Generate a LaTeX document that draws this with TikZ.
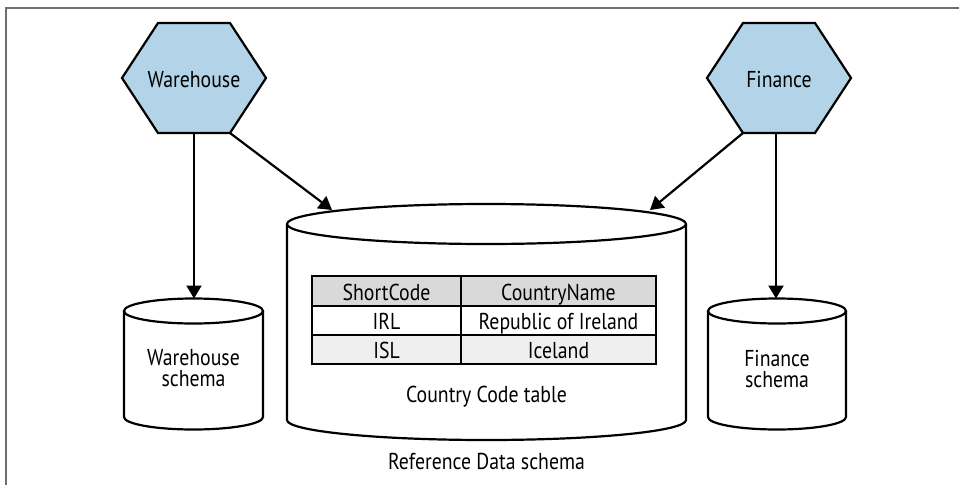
\documentclass[tikz,border=0pt]{standalone}
\usepackage{fontspec}
\setmainfont{PT Sans}[FakeStretch=0.86]
\usetikzlibrary{arrows.meta}
\definecolor{hexblue}{HTML}{B3D4E8}
\definecolor{hdrgray}{HTML}{D9D9D9}
\definecolor{rowgray}{HTML}{EFEFEF}
\definecolor{framegray}{HTML}{6E6E6E}
\begin{document}
\begin{tikzpicture}[x=1pt,y=-1pt,line width=2.2pt,
  txt/.style={font=\fontsize{23}{21}\selectfont, inner sep=0pt, align=center},
  arr/.style={-{Triangle[length=13pt,width=15pt]}},
  hexa/.style={draw=black, fill=hexblue, line width=2.2pt},
  cyl/.style={draw=black, fill=white, line width=2.2pt}]
\useasboundingbox (0,0) rectangle (959,485);
\fill[white] (0,0) rectangle (959,485);
\draw[framegray, line width=1.5pt] (6,485) -- (6,8) -- (959,8);

% hexagons
\draw[hexa] (122,78) -- (158,23) -- (230,23) -- (266,78) -- (230,133) -- (158,133) -- cycle;
\draw[hexa] (707,78) -- (743,23) -- (815,23) -- (851,78) -- (815,133) -- (743,133) -- cycle;
\node[txt, anchor=base] (wh) at (194,87) {Warehouse};
\node[txt, anchor=base] (fin) at (779,87) {Finance};
\coordinate (whB) at (194,133);
\coordinate (whBR) at (230,133);
\coordinate (finB) at (776,133);
\coordinate (finBL) at (743,133);

% big cylinder
\draw[cyl] (287,224) -- (287,420) arc[start angle=180, end angle=0, x radius=199.5, y radius=20] -- (686,224);
\draw[cyl] (486.5,224) ellipse [x radius=199.5, y radius=20];
\coordinate (bigL) at (332,210);
\coordinate (bigR) at (650,210);

% small cylinders
\draw[cyl] (124,311) -- (124,417) arc[start angle=180, end angle=0, x radius=69.5, y radius=12.5] -- (263,311);
\draw[cyl] (193.5,311) ellipse [x radius=69.5, y radius=12.5];
\draw[cyl] (708,311) -- (708,417) arc[start angle=180, end angle=0, x radius=69, y radius=12.5] -- (846,311);
\draw[cyl] (777,311) ellipse [x radius=69, y radius=12.5];
\coordinate (whTop) at (194,298.5);
\coordinate (finTop) at (776,298.5);
\node[txt] (whs) at (193.5,368.5) {Warehouse\\schema};
\node[txt] (fins) at (777,368.5) {Finance\\schema};

% table
\filldraw[fill=hdrgray] (312,276) rectangle (656,306);
\filldraw[fill=white] (312,306) rectangle (656,335);
\filldraw[fill=rowgray] (312,335) rectangle (656,364);
\draw (461,276) -- (461,364);
\node[txt, anchor=base] (h1) at (386.5,300.5) {ShortCode};
\node[txt, anchor=base] (h2) at (558.5,300.5) {CountryName};
\node[txt, anchor=base] (r1a) at (386.5,329.5) {IRL};
\node[txt, anchor=base] (r1b) at (558.5,329.5) {Republic of Ireland};
\node[txt, anchor=base] (r2a) at (386.5,358.5) {ISL};
\node[txt, anchor=base] (r2b) at (558.5,358.5) {Iceland};
\node[txt, anchor=base] (cct) at (486.5,402) {Country Code table};
\node[txt, anchor=base] (rds) at (486.5,469) {Reference Data schema};

% arrows
\draw[arr] (whB) -- (whTop);
\draw[arr] (finB) -- (finTop);
\draw[arr] (whBR) -- (bigL);
\draw[arr] (finBL) -- (bigR);
\end{tikzpicture}
\end{document}
